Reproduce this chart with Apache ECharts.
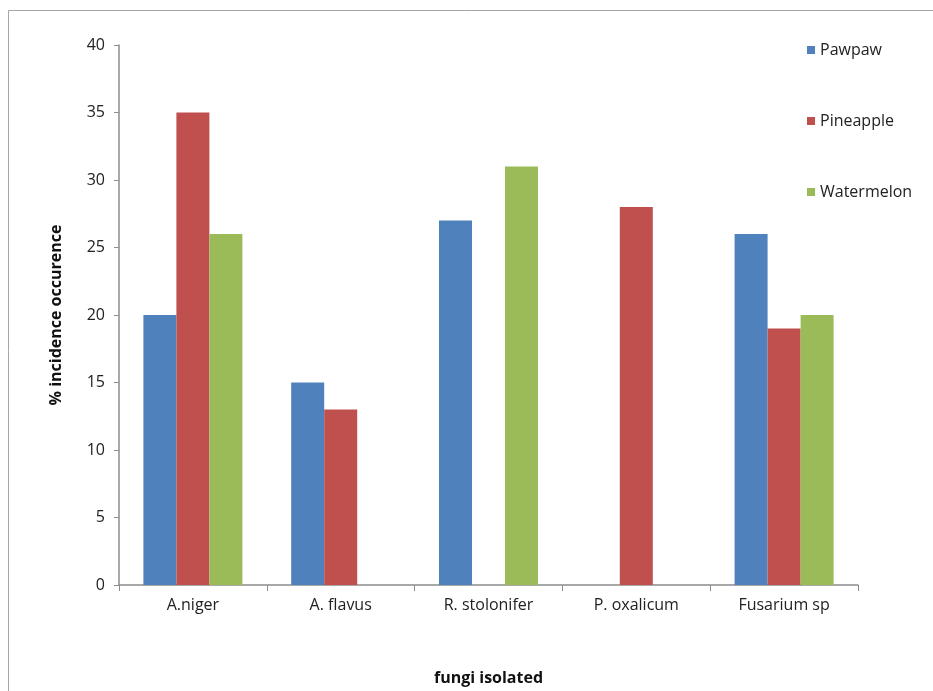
<!DOCTYPE html>
<html><head><meta charset="utf-8">
<script src="https://cdn.jsdelivr.net/npm/echarts@6/dist/echarts.min.js"></script>
<style>html,body{margin:0;padding:0;background:#fff}#c{width:933px;height:691px}</style>
</head><body><div id="c"></div>
<script>
var categories = ['A.niger', 'A. flavus', 'R. stolonifer', 'P. oxalicum', 'Fusarium sp'];
var pawpaw = [20, 15, 27, null, 26];
var pineapple = [35, 13, null, 28, 19];
var watermelon = [26, null, 31, null, 20];
var yTicks = [0, 5, 10, 15, 20, 25, 30, 35, 40];

var font = 'Open Sans';
var chart = echarts.init(document.getElementById('c'));
chart.setOption({
  animation: false,
  graphic: [{type: 'rect', shape: {x: 8.5, y: 10.5, width: 940, height: 700}, style: {fill: 'none', stroke: '#a6a6a6', lineWidth: 1}, silent: true}],
  grid: {left: 119, right: 75, top: 45, bottom: 103},
  legend: {
    orient: 'vertical', left: 802, top: 37, itemWidth: 8, itemHeight: 8, itemGap: 55,
    icon: 'rect',
    textStyle: {fontFamily: font, fontSize: 16, color: '#222'},
    data: ['Pawpaw', 'Pineapple', 'Watermelon']
  },
  xAxis: {
    type: 'category', data: categories,
    name: 'fungi isolated', nameLocation: 'middle', nameGap: 85,
    nameTextStyle: {fontFamily: font, fontSize: 16, fontWeight: 'bold', color: '#111'},
    axisLine: {lineStyle: {color: '#8c8c8c', width: 1.5}},
    axisTick: {show: true, length: 6, lineStyle: {color: '#8c8c8c'}},
    axisLabel: {fontFamily: font, fontSize: 16, color: '#222', margin: 12}
  },
  yAxis: {
    type: 'value', min: 0, max: 40, interval: 5,
    name: '% incidence occurence', nameLocation: 'middle', nameGap: 55, nameRotate: 90,
    nameTextStyle: {fontFamily: font, fontSize: 16, fontWeight: 'bold', color: '#111'},
    splitLine: {show: false},
    axisLine: {show: true, lineStyle: {color: '#8c8c8c', width: 1.5}},
    axisTick: {show: true, length: 5, lineStyle: {color: '#8c8c8c'}},
    axisLabel: {fontFamily: font, fontSize: 16, color: '#222', margin: 14,
      formatter: function (v) { return yTicks.indexOf(v) >= 0 ? String(v) : ''; }}
  },
  series: [
    {name: 'Pawpaw', type: 'bar', data: pawpaw, barGap: '0%', barCategoryGap: '33%', itemStyle: {color: '#4F81BD'}},
    {name: 'Pineapple', type: 'bar', data: pineapple, barGap: '0%', barCategoryGap: '33%', itemStyle: {color: '#C0504D'}},
    {name: 'Watermelon', type: 'bar', data: watermelon, barGap: '0%', barCategoryGap: '33%', itemStyle: {color: '#9BBB59'}}
  ]
});
</script></body></html>
